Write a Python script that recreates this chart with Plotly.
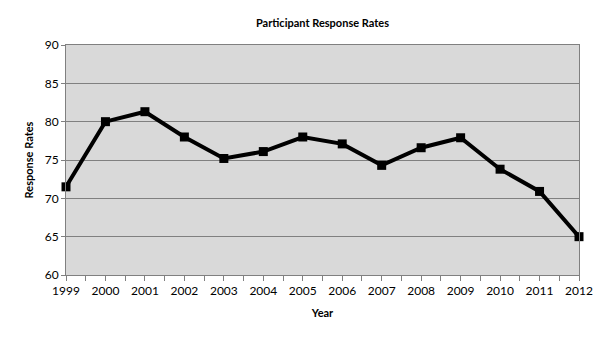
import plotly.graph_objects as go

years = [1999, 2000, 2001, 2002, 2003, 2004, 2005, 2006, 2007, 2008, 2009, 2010, 2011, 2012]
response_rates = [71.5, 80.0, 81.3, 78.0, 75.2, 76.1, 78.0, 77.1, 74.3, 76.6, 77.9, 73.8, 70.9, 65.0]
y_ticks = [60, 65, 70, 75, 80, 85, 90]

font_family = "Lato, Carlito, 'Liberation Sans', sans-serif"

fig = go.Figure()
fig.add_trace(go.Scatter(
    x=years,
    y=response_rates,
    mode="lines+markers",
    line=dict(color="#000000", width=4),
    marker=dict(symbol="square", size=9, color="#000000"),
    cliponaxis=False,
    showlegend=False,
))

fig.update_layout(
    width=605,
    height=340,
    margin=dict(l=66, r=26, t=45, b=65),
    paper_bgcolor="#ffffff",
    plot_bgcolor="#d9d9d9",
    font=dict(family=font_family, color="#000000", size=12),
    title=dict(
        text="<b>Participant Response Rates</b>",
        x=0.5, xanchor="center", xref="paper",
        y=1 - 23 / 340, yanchor="middle", yref="container",
        font=dict(size=11),
    ),
)

fig.update_xaxes(
    range=[1999, 2012],
    tickvals=years,
    ticktext=[str(y) for y in years],
    ticks="outside", ticklen=5, tickcolor="#808080",
    minor=dict(dtick=0.5, tick0=1999, ticks="outside", ticklen=5, tickcolor="#808080"),
    showgrid=False,
    showline=True, linecolor="#808080", linewidth=1, mirror=True,
    tickfont=dict(size=12),
    title=dict(text="<b>Year</b>", font=dict(size=11), standoff=11),
    zeroline=False,
)

fig.update_yaxes(
    range=[60, 90],
    tickvals=y_ticks,
    ticks="outside", ticklen=4, tickcolor="#808080",
    showgrid=True, gridcolor="#808080", gridwidth=1,
    showline=True, linecolor="#808080", linewidth=1, mirror=True,
    tickfont=dict(size=12),
    title=dict(text="<b>Response Rates</b>", font=dict(size=11), standoff=8),
    zeroline=False,
)

fig.write_html("out.html")
